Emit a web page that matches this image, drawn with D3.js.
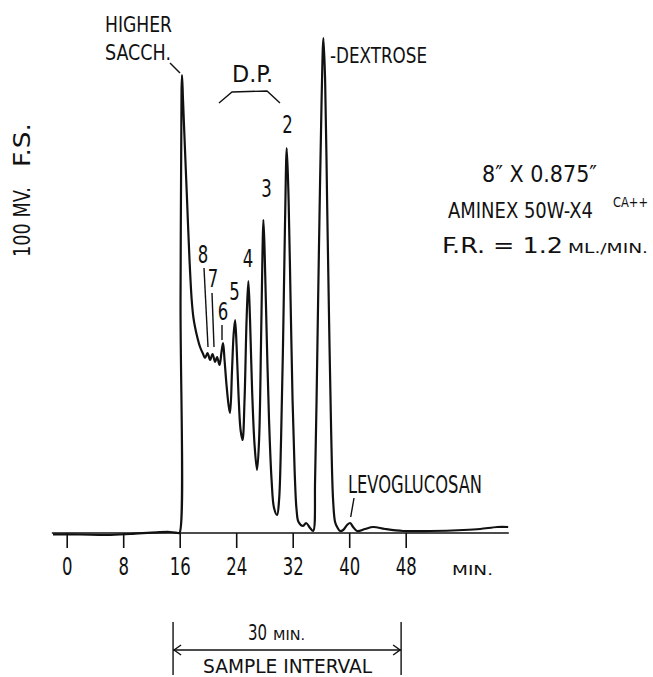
<!DOCTYPE html>
<html>
<head>
<meta charset="utf-8">
<script src="https://cdn.jsdelivr.net/npm/d3@7"></script>
<style>
  body { margin: 0; background: #fff; }
  svg text { font-family: "Liberation Sans Narrow", "DejaVu Sans Condensed", "Liberation Sans", sans-serif; fill: #111; }
</style>
</head>
<body>
<div id="chart"></div>
<script>
// retention time (min) and detector signal (mV, 100 mV full scale)
var traceMinutes = [-1.94, 1.88, 5.71, 8.97, 12.79, 14.63, 15.77, 15.97, 16.12, 16.26, 16.33, 16.47, 16.75, 17.04,
  17.39, 17.70, 17.95, 18.17, 18.52, 18.88, 19.31, 19.59, 19.94, 20.30, 20.65, 21.01, 21.29, 21.64, 21.92, 22.14,
  22.35, 22.63, 22.92, 23.13, 23.41, 23.63, 23.84, 24.05, 24.33, 24.62, 24.90, 25.18, 25.47, 25.72, 25.96, 26.25,
  26.60, 26.95, 27.24, 27.52, 27.73, 27.85, 28.02, 28.30, 28.65, 29.01, 29.36, 29.79, 30.07, 30.35, 30.64, 30.92,
  31.16, 31.42, 31.70, 31.98, 32.27, 32.55, 32.83, 33.47, 33.90, 34.46, 34.89, 35.17, 35.38, 35.60, 35.88, 36.09,
  36.35, 36.59, 36.87, 37.15, 37.44, 37.72, 38.00, 38.29, 38.71, 39.14, 39.70, 40.13, 40.55, 41.12, 42.25, 43.38,
  45.08, 47.63, 51.46, 56.13, 58.54, 60.95, 62.51];
var traceMillivolts = [-0.26, -0.3, -0.4, -0.2, 0.14, 0.2, 0, 0, 46.6, 88.6, 91.6, 86.6, 76.6, 66.6,
  54.6, 46.6, 43, 41.2, 39, 37.2, 35.8, 35, 36, 34.6, 35.8, 34.2, 35.2, 33.6, 36.2, 38,
  34.6, 29.6, 25.6, 24, 32.6, 39.6, 42.6, 37.6, 27.6, 20.6, 18.6, 26.6, 42.6, 50.4, 42.6, 28.6,
  17.6, 12.6, 18.6, 38.6, 56.6, 62.6, 56.6, 40.6, 22.6, 10.6, 5, 3.6, 6.6, 18.6, 38.6, 62.6,
  77, 66.6, 46.6, 26.6, 12.6, 4.6, 2.2, 1.4, 2, 1, 0.4, 10.6, 26.6, 46.6, 70.6, 86.6,
  99, 90.6, 66.6, 42.6, 20.6, 6.6, 2.2, 1.2, 0.4, 0.6, 1.6, 2, 1.2, 0.4, 0.8, 1.2,
  0.8, 0.4, 0.4, 0.6, 0.8, 1.2, 1.2];

var tickValues = [0, 8, 16, 24, 32, 40, 48];

// degree of polymerisation labels (text, min, mV of label baseline)
var peakLabelText = ["8", "7", "6", "5", "4", "3", "2"];
var peakLabelMin = [19.31, 20.72, 22.14, 23.77, 25.68, 28.30, 31.27];
var peakLabelMv = [54, 49.2, 42.6, 46.6, 53.2, 67.2, 80];

// sample interval bracket (min)
var intervalMinutes = [15.06, 47.35];

var width = 653, height = 677;

var svg = d3.select("#chart")
  .append("svg")
    .attr("width", width)
    .attr("height", height);

var x = d3.scaleLinear().domain([0, 48]).range([66.7, 405.7]);
var y = d3.scaleLinear().domain([0, 100]).range([533, 33]);

// baseline / axis line
svg.append("line")
  .attr("x1", x(-2.1)).attr("x2", x(62.6))
  .attr("y1", y(0)).attr("y2", y(0))
  .attr("stroke", "#111").attr("stroke-width", 1.5);

// ticks
var axis = svg.append("g")
  .attr("transform", "translate(0," + y(0) + ")")
  .call(d3.axisBottom(x).tickValues(tickValues).tickSize(15).tickSizeOuter(0));
axis.select(".domain").remove();
axis.selectAll(".tick line").attr("stroke", "#111").attr("stroke-width", 1.6);
axis.selectAll(".tick text")
  .attr("dy", null)
  .attr("y", 42)
  .attr("textLength", d => String(d).length * 10.5)
  .attr("lengthAdjust", "spacingAndGlyphs")
  .style("font-size", "25px");

svg.append("text")
  .attr("x", 452).attr("y", 575)
  .attr("textLength", 41).attr("lengthAdjust", "spacingAndGlyphs")
  .style("font-size", "14px")
  .text("MIN.");

// the trace
var points = traceMinutes.map((m, i) => [m, traceMillivolts[i]]);
var line = d3.line()
  .x(d => x(d[0]))
  .y(d => y(d[1]))
  .curve(d3.curveCatmullRom.alpha(0.5));

svg.append("path")
  .datum(points)
  .attr("d", line)
  .attr("fill", "none")
  .attr("stroke", "#111")
  .attr("stroke-width", 2.2)
  .attr("stroke-linejoin", "round");

// helper for fixed-width lettering
function label(tx, ty, size, len, str) {
  var t = svg.append("text")
    .attr("x", tx).attr("y", ty)
    .style("font-size", size + "px")
    .text(str);
  if (len) t.attr("textLength", len).attr("lengthAdjust", "spacingAndGlyphs");
  return t;
}
function leader(pts) {
  svg.append("path")
    .attr("d", d3.line()(pts))
    .attr("fill", "none")
    .attr("stroke", "#111")
    .attr("stroke-width", 1.4);
}

// peak numbers
peakLabelText.forEach(function(t, i) {
  svg.append("text")
    .attr("x", x(peakLabelMin[i]))
    .attr("y", y(peakLabelMv[i]))
    .attr("text-anchor", "middle")
    .attr("textLength", 10.5)
    .attr("lengthAdjust", "spacingAndGlyphs")
    .style("font-size", "24px")
    .text(t);
});
leader([[204, 268], [208, 347]]);
leader([[212, 293], [214, 347]]);
leader([[222, 325], [222, 340]]);

// annotations
label(105, 32, 20.5, 67, "HIGHER");
label(105, 60, 20.5, 66, "SACCH.");
leader([[170, 63], [180, 73]]);

label(232, 82, 23, 41, "D.P.");
leader([[219, 103], [232, 92], [267, 91], [280, 103]]);

label(330, 63, 22, 97, "-DEXTROSE");

label(348, 493, 24, 134, "LEVOGLUCOSAN");
leader([[354, 498], [350.7, 517]]);

label(482, 182, 23, 115, "8\u2033 X 0.875\u2033");
label(448, 218, 21, 145, "AMINEX 50W-X4");
label(613, 207, 14, 35, "CA++");
label(442, 253, 21, 121, "F.R. = 1.2");
label(568, 253, 14, 80, "ML./MIN.");

// y label, rotated
label(0, 0, 23, 70, "100 MV.").attr("transform", "translate(30,257) rotate(-90)");
label(0, 0, 23, 44, "F.S.").attr("transform", "translate(30,167) rotate(-90)");

// sample interval bracket
var bx0 = x(intervalMinutes[0]), bx1 = x(intervalMinutes[1]);
[bx0, bx1].forEach(function(bx) {
  svg.append("line")
    .attr("x1", bx).attr("x2", bx)
    .attr("y1", 622).attr("y2", 675)
    .attr("stroke", "#111").attr("stroke-width", 1.4);
});
svg.append("line")
  .attr("x1", bx0).attr("x2", bx1)
  .attr("y1", 650).attr("y2", 650)
  .attr("stroke", "#111").attr("stroke-width", 1.6);
leader([[bx0 + 8, 645], [bx0 + 1, 650], [bx0 + 8, 655]]);
leader([[bx1 - 8, 645], [bx1 - 1, 650], [bx1 - 8, 655]]);

label(248, 640, 20.5, 19, "30");
label(273, 640, 14, 32, "MIN.");
label(203, 673, 20, 169, "SAMPLE INTERVAL");
</script>
</body>
</html>
